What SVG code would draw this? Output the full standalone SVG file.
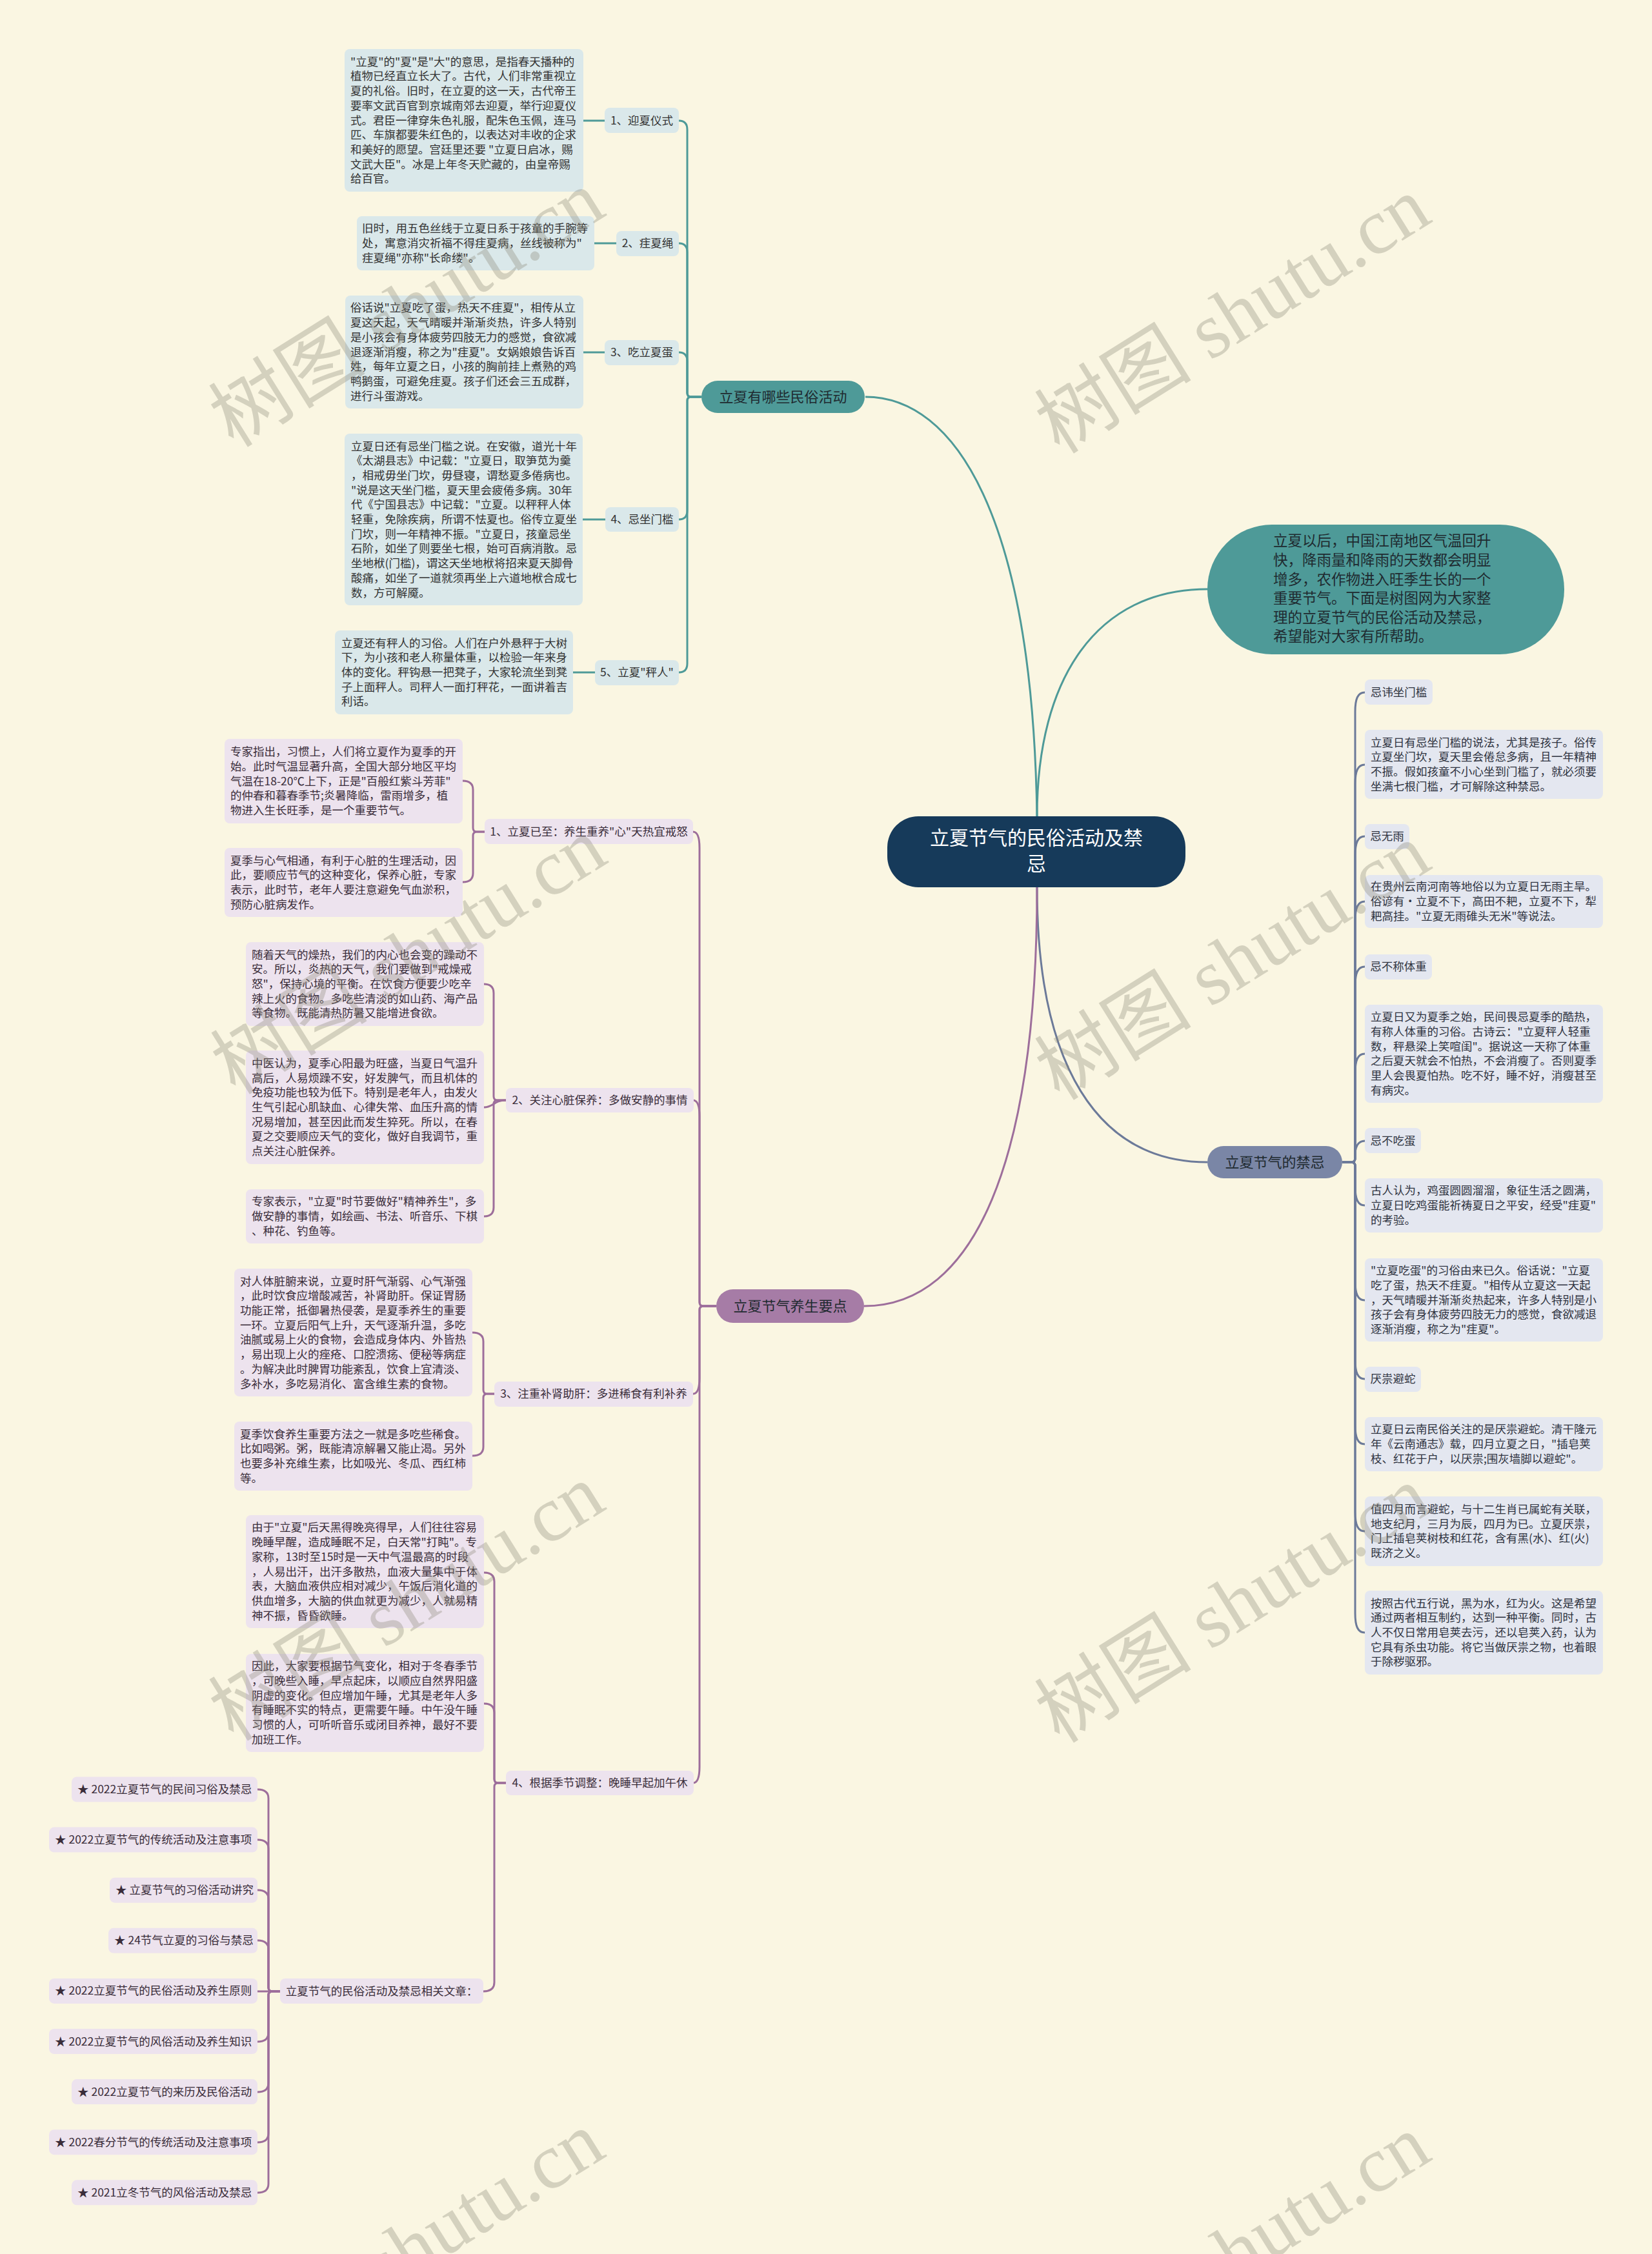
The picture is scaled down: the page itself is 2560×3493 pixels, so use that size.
<svg xmlns="http://www.w3.org/2000/svg" width="2560" height="3493" viewBox="0 0 2560 3493">
<style>
text{font-family:"Noto Sans CJK SC","Noto Sans",sans-serif}
.bt{font-size:17.5px;fill:#333333}
.bp{font-size:17.5px;fill:#3a2d3a}
.bs{font-size:17.5px;fill:#2f3340}
.lab{font-size:17.5px;text-anchor:middle}
.tl{fill:#DAE8EA}
.pl{fill:#EDE3EE}
.sl{fill:#E4E7F0}
.ct{fill:none;stroke:#4E9A98;stroke-width:3}
.cp{fill:none;stroke:#9D6E9B;stroke-width:3}
.cs{fill:none;stroke:#6C7A99;stroke-width:3}
.main{font-size:22px;fill:#1f2a30;text-anchor:middle}
.wm{font-family:"Liberation Serif","Noto Sans CJK SC",serif;font-size:122px;fill:#8a8776;opacity:0.33}
</style>
<rect x="0" y="0" width="2560" height="3493" fill="#FAF6E2"/>

<g id="connectors">
  <path class="ct" stroke-width="3.5" d="M1607,1265 C1600,800 1480,615 1341,615"/>
  <path class="ct" stroke-width="3.5" d="M1607,1265 C1607,1050 1700,913 1871,913"/>
  <path class="cs" stroke-width="3.5" d="M1607,1375 C1607,1650 1700,1801 1871,1801"/>
  <path class="cp" stroke-width="3.5" d="M1607,1375 C1607,1800 1510,2024 1339,2024"/>
  <path class="ct" d="M1087,615 H1071 Q1065,615 1065,609 V201 Q1065,187 1052,187"/>
  <path class="ct" d="M1087,615 H1071 Q1065,615 1065,609 V391 Q1065,377 1052,377"/>
  <path class="ct" d="M1087,615 H1071 Q1065,615 1065,609 V560 Q1065,546 1052,546"/>
  <path class="ct" d="M1087,615 H1071 Q1065,615 1065,621 V791 Q1065,805 1052,805"/>
  <path class="ct" d="M1087,615 H1071 Q1065,615 1065,621 V1028 Q1065,1042 1052,1042"/>
  <path class="ct" d="M904,187 H937"/>
  <path class="ct" d="M921,377 H955"/>
  <path class="ct" d="M904,546 H937"/>
  <path class="ct" d="M903,805 H938"/>
  <path class="ct" d="M888,1042 H922"/>
  <path class="cs" d="M2080,1801 H2094 Q2100,1801 2100,1795 V1103 C2100,1083 2104,1073 2115,1073"/>
  <path class="cs" d="M2080,1801 H2094 Q2100,1801 2100,1795 V1215 C2100,1195 2104,1185 2115,1185"/>
  <path class="cs" d="M2080,1801 H2094 Q2100,1801 2100,1795 V1326 C2100,1306 2104,1296 2115,1296"/>
  <path class="cs" d="M2080,1801 H2094 Q2100,1801 2100,1795 V1427 C2100,1407 2104,1397 2115,1397"/>
  <path class="cs" d="M2080,1801 H2094 Q2100,1801 2100,1795 V1528 C2100,1508 2104,1498 2115,1498"/>
  <path class="cs" d="M2080,1801 H2094 Q2100,1801 2100,1795 V1663 C2100,1643 2104,1633 2115,1633"/>
  <path class="cs" d="M2080,1801 H2094 Q2100,1801 2100,1795 V1790 C2100,1778 2104,1768 2115,1768"/>
  <path class="cs" d="M2080,1801 H2094 Q2100,1801 2100,1807 V1838 C2100,1858 2104,1868 2115,1868"/>
  <path class="cs" d="M2080,1801 H2094 Q2100,1801 2100,1807 V1985 C2100,2005 2104,2015 2115,2015"/>
  <path class="cs" d="M2080,1801 H2094 Q2100,1801 2100,1807 V2107 C2100,2127 2104,2137 2115,2137"/>
  <path class="cs" d="M2080,1801 H2094 Q2100,1801 2100,1807 V2208 C2100,2228 2104,2238 2115,2238"/>
  <path class="cs" d="M2080,1801 H2094 Q2100,1801 2100,1807 V2343 C2100,2363 2104,2373 2115,2373"/>
  <path class="cs" d="M2080,1801 H2094 Q2100,1801 2100,1807 V2500 C2100,2520 2104,2530 2115,2530"/>
  <path class="cp" d="M1110,2024 H1090 Q1084,2024 1084,2018 V1314 C1084,1297 1081,1289 1074,1289"/>
  <path class="cp" d="M1110,2024 H1090 Q1084,2024 1084,2018 V1730 C1084,1713 1081,1705 1074,1705"/>
  <path class="cp" d="M1110,2024 H1090 Q1084,2024 1084,2030 V2135 C1084,2152 1081,2160 1074,2160"/>
  <path class="cp" d="M1110,2024 H1090 Q1084,2024 1084,2030 V2738 C1084,2755 1081,2763 1074,2763"/>
  <path class="cp" d="M751,1289 H739 Q733,1289 733,1283 V1224 Q733,1210 717,1210"/>
  <path class="cp" d="M751,1289 H739 Q733,1289 733,1295 V1353 Q733,1367 717,1367"/>
  <path class="cp" d="M784,1705 H771 Q765,1705 765,1699 V1539 Q765,1525 750,1525"/>
  <path class="cp" d="M784,1705 C765,1705 765,1716 750,1716"/>
  <path class="cp" d="M784,1705 H771 Q765,1705 765,1711 V1871 Q765,1885 750,1885"/>
  <path class="cp" d="M766,2160 H755 Q749,2160 749,2154 V2079 Q749,2065 732,2065"/>
  <path class="cp" d="M766,2160 H755 Q749,2160 749,2166 V2242 Q749,2256 732,2256"/>
  <path class="cp" d="M784,2763 H772 Q766,2763 766,2757 V2451 Q766,2437 750,2437"/>
  <path class="cp" d="M784,2763 H772 Q766,2763 766,2757 V2654 Q766,2640 750,2640"/>
  <path class="cp" d="M784,2763 H772 Q766,2763 766,2769 V3072 Q766,3086 749,3086"/>
  <path class="cp" d="M434,3086 H422 Q416,3086 416,3080 V2787 Q416,2773 399,2773"/>
  <path class="cp" d="M434,3086 H422 Q416,3086 416,3080 V2865 Q416,2851 399,2851"/>
  <path class="cp" d="M434,3086 H422 Q416,3086 416,3080 V2943 Q416,2929 399,2929"/>
  <path class="cp" d="M434,3086 H422 Q416,3086 416,3080 V3021 Q416,3007 399,3007"/>
  <path class="cp" d="M434,3086 H399"/>
  <path class="cp" d="M434,3086 H422 Q416,3086 416,3092 V3150 Q416,3164 399,3164"/>
  <path class="cp" d="M434,3086 H422 Q416,3086 416,3092 V3228 Q416,3242 399,3242"/>
  <path class="cp" d="M434,3086 H422 Q416,3086 416,3092 V3306 Q416,3320 399,3320"/>
  <path class="cp" d="M434,3086 H422 Q416,3086 416,3092 V3384 Q416,3398 399,3398"/>
</g>

<g id="center">
  <rect x="1375" y="1265" width="462" height="110" rx="48" fill="#163A5A"/>
  <text x="1606" y="1309" font-size="30" fill="#ffffff" text-anchor="middle">立夏节气的民俗活动及禁</text>
  <text x="1606" y="1349" font-size="30" fill="#ffffff" text-anchor="middle">忌</text>
</g>

<g id="intro">
  <rect x="1871" y="813" width="553" height="201" rx="100" fill="#4E9A98"/>
  <text font-size="22.5" fill="#1f2a30">
    <tspan x="1973" y="846">立夏以后，中国江南地区气温回升</tspan>
    <tspan x="1973" y="876">快，降雨量和降雨的天数都会明显</tspan>
    <tspan x="1973" y="905.5">增多，农作物进入旺季生长的一个</tspan>
    <tspan x="1973" y="935">重要节气。下面是树图网为大家整</tspan>
    <tspan x="1973" y="964.5">理的立夏节气的民俗活动及禁忌，</tspan>
    <tspan x="1973" y="994">希望能对大家有所帮助。</tspan>
  </text>
</g>

<g id="branch-customs">
  <rect x="1087" y="590" width="253" height="50" rx="25" fill="#4E9A98"/>
  <text class="main" x="1213.5" y="623">立夏有哪些民俗活动</text>
</g>
<g id="branch-taboos">
  <rect x="1871" y="1776" width="209" height="50" rx="25" fill="#7A86A6"/>
  <text class="main" x="1975.5" y="1809">立夏节气的禁忌</text>
</g>
<g id="branch-health">
  <rect x="1110" y="1998" width="229" height="52" rx="26" fill="#A67CA6"/>
  <text class="main" x="1224.5" y="2032">立夏节气养生要点</text>
</g>

<g id="c1">
  <rect class="tl" x="937" y="167" width="115" height="39" rx="8"/>
  <text class="bt lab" x="994.5" y="193">1、迎夏仪式</text>
</g>
<g id="c1-text">
  <rect class="tl" x="534" y="76" width="370" height="221" rx="8"/>
  <text class="bt">
    <tspan x="543" y="101.7">"立夏"的"夏"是"大"的意思，是指春天播种的</tspan>
    <tspan x="543" y="124.4">植物已经直立长大了。古代，人们非常重视立</tspan>
    <tspan x="543" y="147.1">夏的礼俗。旧时，在立夏的这一天，古代帝王</tspan>
    <tspan x="543" y="169.8">要率文武百官到京城南郊去迎夏，举行迎夏仪</tspan>
    <tspan x="543" y="192.5">式。君臣一律穿朱色礼服，配朱色玉佩，连马</tspan>
    <tspan x="543" y="215.2">匹、车旗都要朱红色的，以表达对丰收的企求</tspan>
    <tspan x="543" y="237.9">和美好的愿望。宫廷里还要 "立夏日启冰，赐</tspan>
    <tspan x="543" y="260.6">文武大臣"。冰是上年冬天贮藏的，由皇帝赐</tspan>
    <tspan x="543" y="283.3">给百官。</tspan>
  </text>
</g>
<g id="c2">
  <rect class="tl" x="955" y="358" width="97" height="39" rx="8"/>
  <text class="bt lab" x="1003.5" y="383">2、疰夏绳</text>
</g>
<g id="c2-text">
  <rect class="tl" x="553" y="335" width="368" height="84" rx="8"/>
  <text class="bt">
    <tspan x="561" y="360.3">旧时，用五色丝线于立夏日系于孩童的手腕等</tspan>
    <tspan x="561" y="383">处，寓意消灾祈福不得疰夏病，丝线被称为"</tspan>
    <tspan x="561" y="405.7">疰夏绳"亦称"长命缕"。</tspan>
  </text>
</g>
<g id="c3">
  <rect class="tl" x="937" y="527" width="115" height="39" rx="8"/>
  <text class="bt lab" x="994.5" y="552">3、吃立夏蛋</text>
</g>
<g id="c3-text">
  <rect class="tl" x="535" y="458" width="369" height="175" rx="8"/>
  <text class="bt">
    <tspan x="543" y="483.4">俗话说"立夏吃了蛋，热天不疰夏"，相传从立</tspan>
    <tspan x="543" y="506.1">夏这天起，天气晴暖并渐渐炎热，许多人特别</tspan>
    <tspan x="543" y="528.8">是小孩会有身体疲劳四肢无力的感觉，食欲减</tspan>
    <tspan x="543" y="551.5">退逐渐消瘦，称之为"疰夏"。女娲娘娘告诉百</tspan>
    <tspan x="543" y="574.2">姓，每年立夏之日，小孩的胸前挂上煮熟的鸡</tspan>
    <tspan x="543" y="596.9">鸭鹅蛋，可避免疰夏。孩子们还会三五成群，</tspan>
    <tspan x="543" y="619.6">进行斗蛋游戏。</tspan>
  </text>
</g>
<g id="c4">
  <rect class="tl" x="938" y="786" width="114" height="38" rx="8"/>
  <text class="bt lab" x="995" y="811">4、忌坐门槛</text>
</g>
<g id="c4-text">
  <rect class="tl" x="534" y="672" width="369" height="266" rx="8"/>
  <text class="bt">
    <tspan x="544" y="697.5">立夏日还有忌坐门槛之说。在安徽，道光十年</tspan>
    <tspan x="544" y="720.2">《太湖县志》中记载："立夏日，取笋苋为羹</tspan>
    <tspan x="544" y="742.9">，相戒毋坐门坎，毋昼寝，谓愁夏多倦病也。</tspan>
    <tspan x="544" y="765.6">"说是这天坐门槛，夏天里会疲倦多病。30年</tspan>
    <tspan x="544" y="788.3">代《宁国县志》中记载："立夏。以秤秤人体</tspan>
    <tspan x="544" y="811">轻重，免除疾病，所谓不怯夏也。俗传立夏坐</tspan>
    <tspan x="544" y="833.7">门坎，则一年精神不振。"立夏日，孩童忌坐</tspan>
    <tspan x="544" y="856.4">石阶，如坐了则要坐七根，始可百病消散。忌</tspan>
    <tspan x="544" y="879.1">坐地栿(门槛)，谓这天坐地栿将招来夏天脚骨</tspan>
    <tspan x="544" y="901.8">酸痛，如坐了一道就须再坐上六道地栿合成七</tspan>
    <tspan x="544" y="924.5">数，方可解魇。</tspan>
  </text>
</g>
<g id="c5">
  <rect class="tl" x="922" y="1023" width="130" height="39" rx="8"/>
  <text class="bt lab" x="987" y="1048">5、立夏"秤人"</text>
</g>
<g id="c5-text">
  <rect class="tl" x="519" y="977" width="369" height="130" rx="8"/>
  <text class="bt">
    <tspan x="529" y="1002.6">立夏还有秤人的习俗。人们在户外悬秤于大树</tspan>
    <tspan x="529" y="1025.3">下，为小孩和老人称量体重，以检验一年来身</tspan>
    <tspan x="529" y="1048">体的变化。秤钩悬一把凳子，大家轮流坐到凳</tspan>
    <tspan x="529" y="1070.7">子上面秤人。司秤人一面打秤花，一面讲着吉</tspan>
    <tspan x="529" y="1093.4">利话。</tspan>
  </text>
</g>

<g id="p1">
  <rect class="pl" x="751" y="1269" width="323" height="39" rx="8"/>
  <text class="bp lab" x="912.5" y="1295">1、立夏已至：养生重养"心"天热宜戒怒</text>
</g>
<g id="p1-a">
  <rect class="pl" x="348" y="1145" width="369" height="131" rx="8"/>
  <text class="bp">
    <tspan x="357" y="1171.1">专家指出，习惯上，人们将立夏作为夏季的开</tspan>
    <tspan x="357" y="1193.8">始。此时气温显著升高，全国大部分地区平均</tspan>
    <tspan x="357" y="1216.5">气温在18-20℃上下，正是"百般红紫斗芳菲"</tspan>
    <tspan x="357" y="1239.2">的仲春和暮春季节;炎暑降临，雷雨增多，植</tspan>
    <tspan x="357" y="1261.9">物进入生长旺季，是一个重要节气。</tspan>
  </text>
</g>
<g id="p1-b">
  <rect class="pl" x="348" y="1314" width="369" height="107" rx="8"/>
  <text class="bp">
    <tspan x="357" y="1339.5">夏季与心气相通，有利于心脏的生理活动，因</tspan>
    <tspan x="357" y="1362.2">此，要顺应节气的这种变化，保养心脏，专家</tspan>
    <tspan x="357" y="1384.9">表示，此时节，老年人要注意避免气血淤积，</tspan>
    <tspan x="357" y="1407.6">预防心脏病发作。</tspan>
  </text>
</g>
<g id="p2">
  <rect class="pl" x="784" y="1686" width="291" height="38" rx="8"/>
  <text class="bp lab" x="929.5" y="1711">2、关注心脏保养：多做安静的事情</text>
</g>
<g id="p2-a">
  <rect class="pl" x="381" y="1460" width="369" height="130" rx="8"/>
  <text class="bp">
    <tspan x="390" y="1485.6">随着天气的燥热，我们的内心也会变的躁动不</tspan>
    <tspan x="390" y="1508.3">安。所以，炎热的天气，我们要做到"戒燥戒</tspan>
    <tspan x="390" y="1531">怒"，保持心境的平衡。在饮食方便要少吃辛</tspan>
    <tspan x="390" y="1553.7">辣上火的食物。多吃些清淡的如山药、海产品</tspan>
    <tspan x="390" y="1576.4">等食物。既能清热防暑又能增进食欲。</tspan>
  </text>
</g>
<g id="p2-b">
  <rect class="pl" x="381" y="1628" width="369" height="176" rx="8"/>
  <text class="bp">
    <tspan x="390" y="1653.9">中医认为，夏季心阳最为旺盛，当夏日气温升</tspan>
    <tspan x="390" y="1676.6">高后，人易烦躁不安，好发脾气，而且机体的</tspan>
    <tspan x="390" y="1699.3">免疫功能也较为低下。特别是老年人，由发火</tspan>
    <tspan x="390" y="1722">生气引起心肌缺血、心律失常、血压升高的情</tspan>
    <tspan x="390" y="1744.7">况易增加，甚至因此而发生猝死。所以，在春</tspan>
    <tspan x="390" y="1767.4">夏之交要顺应天气的变化，做好自我调节，重</tspan>
    <tspan x="390" y="1790.1">点关注心脏保养。</tspan>
  </text>
</g>
<g id="p2-c">
  <rect class="pl" x="381" y="1843" width="369" height="84" rx="8"/>
  <text class="bp">
    <tspan x="390" y="1868.3">专家表示，"立夏"时节要做好"精神养生"，多</tspan>
    <tspan x="390" y="1891">做安静的事情，如绘画、书法、听音乐、下棋</tspan>
    <tspan x="390" y="1913.7">、种花、钓鱼等。</tspan>
  </text>
</g>
<g id="p3">
  <rect class="pl" x="766" y="2141" width="308" height="39" rx="8"/>
  <text class="bp lab" x="920" y="2166">3、注重补肾助肝：多进稀食有利补养</text>
</g>
<g id="p3-a">
  <rect class="pl" x="363" y="1966" width="369" height="198" rx="8"/>
  <text class="bp">
    <tspan x="372" y="1991.6">对人体脏腑来说，立夏时肝气渐弱、心气渐强</tspan>
    <tspan x="372" y="2014.3">，此时饮食应增酸减苦，补肾助肝。保证胃肠</tspan>
    <tspan x="372" y="2037">功能正常，抵御暑热侵袭，是夏季养生的重要</tspan>
    <tspan x="372" y="2059.7">一环。立夏后阳气上升，天气逐渐升温，多吃</tspan>
    <tspan x="372" y="2082.4">油腻或易上火的食物，会造成身体内、外皆热</tspan>
    <tspan x="372" y="2105.1">，易出现上火的痤疮、口腔溃疡、便秘等病症</tspan>
    <tspan x="372" y="2127.8">。为解决此时脾胃功能紊乱，饮食上宜清淡、</tspan>
    <tspan x="372" y="2150.5">多补水，多吃易消化、富含维生素的食物。</tspan>
  </text>
</g>
<g id="p3-b">
  <rect class="pl" x="363" y="2203" width="369" height="107" rx="8"/>
  <text class="bp">
    <tspan x="372" y="2228.5">夏季饮食养生重要方法之一就是多吃些稀食。</tspan>
    <tspan x="372" y="2251.2">比如喝粥。粥，既能清凉解暑又能止渴。另外</tspan>
    <tspan x="372" y="2273.9">也要多补充维生素，比如吸光、冬瓜、西红柿</tspan>
    <tspan x="372" y="2296.6">等。</tspan>
  </text>
</g>
<g id="p4">
  <rect class="pl" x="784" y="2744" width="291" height="38" rx="8"/>
  <text class="bp lab" x="929.5" y="2769">4、根据季节调整：晚睡早起加午休</text>
</g>
<g id="p4-a">
  <rect class="pl" x="381" y="2348" width="369" height="175" rx="8"/>
  <text class="bp">
    <tspan x="390" y="2373.4">由于"立夏"后天黑得晚亮得早，人们往往容易</tspan>
    <tspan x="390" y="2396.1">晚睡早醒，造成睡眠不足，白天常"打盹"。专</tspan>
    <tspan x="390" y="2418.8">家称，13时至15时是一天中气温最高的时段</tspan>
    <tspan x="390" y="2441.5">，人易出汗，出汗多散热，血液大量集中于体</tspan>
    <tspan x="390" y="2464.2">表，大脑血液供应相对减少，午饭后消化道的</tspan>
    <tspan x="390" y="2486.9">供血增多，大脑的供血就更为减少，人就易精</tspan>
    <tspan x="390" y="2509.6">神不振，昏昏欲睡。</tspan>
  </text>
</g>
<g id="p4-b">
  <rect class="pl" x="381" y="2563" width="369" height="152" rx="8"/>
  <text class="bp">
    <tspan x="390" y="2588.3">因此，大家要根据节气变化，相对于冬春季节</tspan>
    <tspan x="390" y="2611">，可晚些入睡，早点起床，以顺应自然界阳盛</tspan>
    <tspan x="390" y="2633.7">阴虚的变化。但应增加午睡，尤其是老年人多</tspan>
    <tspan x="390" y="2656.4">有睡眠不实的特点，更需要午睡。中午没午睡</tspan>
    <tspan x="390" y="2679.1">习惯的人，可听听音乐或闭目养神，最好不要</tspan>
    <tspan x="390" y="2701.8">加班工作。</tspan>
  </text>
</g>
<g id="related">
  <rect class="pl" x="434" y="3066" width="315" height="39" rx="8"/>
  <text class="bp lab" x="591.5" y="3092">立夏节气的民俗活动及禁忌相关文章：</text>
</g>
<g id="link1"><rect class="pl" x="111" y="2753.5" width="288" height="39" rx="8"/><text class="bp" x="120" y="2779">★ 2022立夏节气的民间习俗及禁忌</text></g>
<g id="link2"><rect class="pl" x="76" y="2831.6" width="323" height="39" rx="8"/><text class="bp" x="85" y="2857">★ 2022立夏节气的传统活动及注意事项</text></g>
<g id="link3"><rect class="pl" x="170" y="2909.7" width="229" height="39" rx="8"/><text class="bp" x="179" y="2935">★ 立夏节气的习俗活动讲究</text></g>
<g id="link4"><rect class="pl" x="168" y="2987.8" width="231" height="39" rx="8"/><text class="bp" x="177" y="3013">★ 24节气立夏的习俗与禁忌</text></g>
<g id="link5"><rect class="pl" x="76" y="3065.9" width="323" height="39" rx="8"/><text class="bp" x="85" y="3091">★ 2022立夏节气的民俗活动及养生原则</text></g>
<g id="link6"><rect class="pl" x="76" y="3144" width="323" height="39" rx="8"/><text class="bp" x="85" y="3170">★ 2022立夏节气的风俗活动及养生知识</text></g>
<g id="link7"><rect class="pl" x="111" y="3222.1" width="288" height="39" rx="8"/><text class="bp" x="120" y="3248">★ 2022立夏节气的来历及民俗活动</text></g>
<g id="link8"><rect class="pl" x="76" y="3300.2" width="323" height="39" rx="8"/><text class="bp" x="85" y="3326">★ 2022春分节气的传统活动及注意事项</text></g>
<g id="link9"><rect class="pl" x="111" y="3378.3" width="288" height="39" rx="8"/><text class="bp" x="120" y="3404">★ 2021立冬节气的风俗活动及禁忌</text></g>

<g id="s1"><rect class="sl" x="2115" y="1053" width="105" height="39" rx="8"/><text class="bs lab" x="2167.5" y="1079">忌讳坐门槛</text></g>
<g id="s1-t">
  <rect class="sl" x="2115" y="1131" width="369" height="107" rx="8"/>
  <text class="bs">
    <tspan x="2124" y="1156.5">立夏日有忌坐门槛的说法，尤其是孩子。俗传</tspan>
    <tspan x="2124" y="1179.2">立夏坐门坎，夏天里会倦怠多病，且一年精神</tspan>
    <tspan x="2124" y="1201.9">不振。假如孩童不小心坐到门槛了，就必须要</tspan>
    <tspan x="2124" y="1224.6">坐满七根门槛，才可解除这种禁忌。</tspan>
  </text>
</g>
<g id="s2"><rect class="sl" x="2115" y="1277" width="69" height="39" rx="8"/><text class="bs lab" x="2149.5" y="1302">忌无雨</text></g>
<g id="s2-t">
  <rect class="sl" x="2115" y="1356" width="369" height="82" rx="8"/>
  <text class="bs">
    <tspan x="2124" y="1380.3">在贵州云南河南等地俗以为立夏日无雨主旱。</tspan>
    <tspan x="2124" y="1403">俗谚有·立夏不下，高田不耙，立夏不下，犁</tspan>
    <tspan x="2124" y="1425.7">耙高挂。"立夏无雨碓头无米"等说法。</tspan>
  </text>
</g>
<g id="s3"><rect class="sl" x="2115" y="1479" width="104" height="39" rx="8"/><text class="bs lab" x="2167" y="1504">忌不称体重</text></g>
<g id="s3-t">
  <rect class="sl" x="2115" y="1557" width="369" height="152" rx="8"/>
  <text class="bs">
    <tspan x="2124" y="1582.3">立夏日又为夏季之始，民间畏忌夏季的酷热，</tspan>
    <tspan x="2124" y="1605">有称人体重的习俗。古诗云："立夏秤人轻重</tspan>
    <tspan x="2124" y="1627.7">数，秤悬梁上笑喧闺"。据说这一天称了体重</tspan>
    <tspan x="2124" y="1650.4">之后夏天就会不怕热，不会消瘦了。否则夏季</tspan>
    <tspan x="2124" y="1673.1">里人会畏夏怕热。吃不好，睡不好，消瘦甚至</tspan>
    <tspan x="2124" y="1695.8">有病灾。</tspan>
  </text>
</g>
<g id="s4"><rect class="sl" x="2115" y="1748" width="87" height="39" rx="8"/><text class="bs lab" x="2158.5" y="1774">忌不吃蛋</text></g>
<g id="s4-t">
  <rect class="sl" x="2115" y="1826" width="369" height="84" rx="8"/>
  <text class="bs">
    <tspan x="2124" y="1851.3">古人认为，鸡蛋圆圆溜溜，象征生活之圆满，</tspan>
    <tspan x="2124" y="1874">立夏日吃鸡蛋能祈祷夏日之平安，经受"疰夏"</tspan>
    <tspan x="2124" y="1896.7">的考验。</tspan>
  </text>
</g>
<g id="s4-t2">
  <rect class="sl" x="2115" y="1950" width="369" height="129" rx="8"/>
  <text class="bs">
    <tspan x="2124" y="1975.1">"立夏吃蛋"的习俗由来已久。俗话说："立夏</tspan>
    <tspan x="2124" y="1997.8">吃了蛋，热天不疰夏。"相传从立夏这一天起</tspan>
    <tspan x="2124" y="2020.5">，天气晴暖并渐渐炎热起来，许多人特别是小</tspan>
    <tspan x="2124" y="2043.2">孩子会有身体疲劳四肢无力的感觉，食欲减退</tspan>
    <tspan x="2124" y="2065.9">逐渐消瘦，称之为"疰夏"。</tspan>
  </text>
</g>
<g id="s5"><rect class="sl" x="2115" y="2118" width="87" height="39" rx="8"/><text class="bs lab" x="2158.5" y="2143">厌祟避蛇</text></g>
<g id="s5-t">
  <rect class="sl" x="2115" y="2196" width="369" height="84" rx="8"/>
  <text class="bs">
    <tspan x="2124" y="2221.3">立夏日云南民俗关注的是厌祟避蛇。清干隆元</tspan>
    <tspan x="2124" y="2244">年《云南通志》载，四月立夏之日，"插皂荚</tspan>
    <tspan x="2124" y="2266.7">枝、红花于户，以厌祟;围灰墙脚以避蛇"。</tspan>
  </text>
</g>
<g id="s5-t2">
  <rect class="sl" x="2115" y="2319" width="369" height="108" rx="8"/>
  <text class="bs">
    <tspan x="2124" y="2345">值四月而言避蛇，与十二生肖已属蛇有关联，</tspan>
    <tspan x="2124" y="2367.7">地支纪月，三月为辰，四月为已。立夏厌祟，</tspan>
    <tspan x="2124" y="2390.4">门上插皂荚树枝和红花，含有黑(水)、红(火)</tspan>
    <tspan x="2124" y="2413.1">既济之义。</tspan>
  </text>
</g>
<g id="s5-t3">
  <rect class="sl" x="2115" y="2465" width="369" height="130" rx="8"/>
  <text class="bs">
    <tspan x="2124" y="2490.6">按照古代五行说，黑为水，红为火。这是希望</tspan>
    <tspan x="2124" y="2513.3">通过两者相互制约，达到一种平衡。同时，古</tspan>
    <tspan x="2124" y="2536">人不仅日常用皂荚去污，还以皂荚入药，认为</tspan>
    <tspan x="2124" y="2558.7">它具有杀虫功能。将它当做厌祟之物，也着眼</tspan>
    <tspan x="2124" y="2581.4">于除秽驱邪。</tspan>
  </text>
</g>

<g id="watermark">
  <text class="wm" transform="translate(362,695) rotate(-32)">树图 shutu.cn</text>
  <text class="wm" transform="translate(1642,705) rotate(-32)">树图 shutu.cn</text>
  <text class="wm" transform="translate(365,1698) rotate(-32)">树图 shutu.cn</text>
  <text class="wm" transform="translate(1642,1707) rotate(-32)">树图 shutu.cn</text>
  <text class="wm" transform="translate(362,2700) rotate(-32)">树图 shutu.cn</text>
  <text class="wm" transform="translate(1642,2703) rotate(-32)">树图 shutu.cn</text>
  <text class="wm" transform="translate(362,3703) rotate(-32)">树图 shutu.cn</text>
  <text class="wm" transform="translate(1642,3708) rotate(-32)">树图 shutu.cn</text>
</g>
</svg>
